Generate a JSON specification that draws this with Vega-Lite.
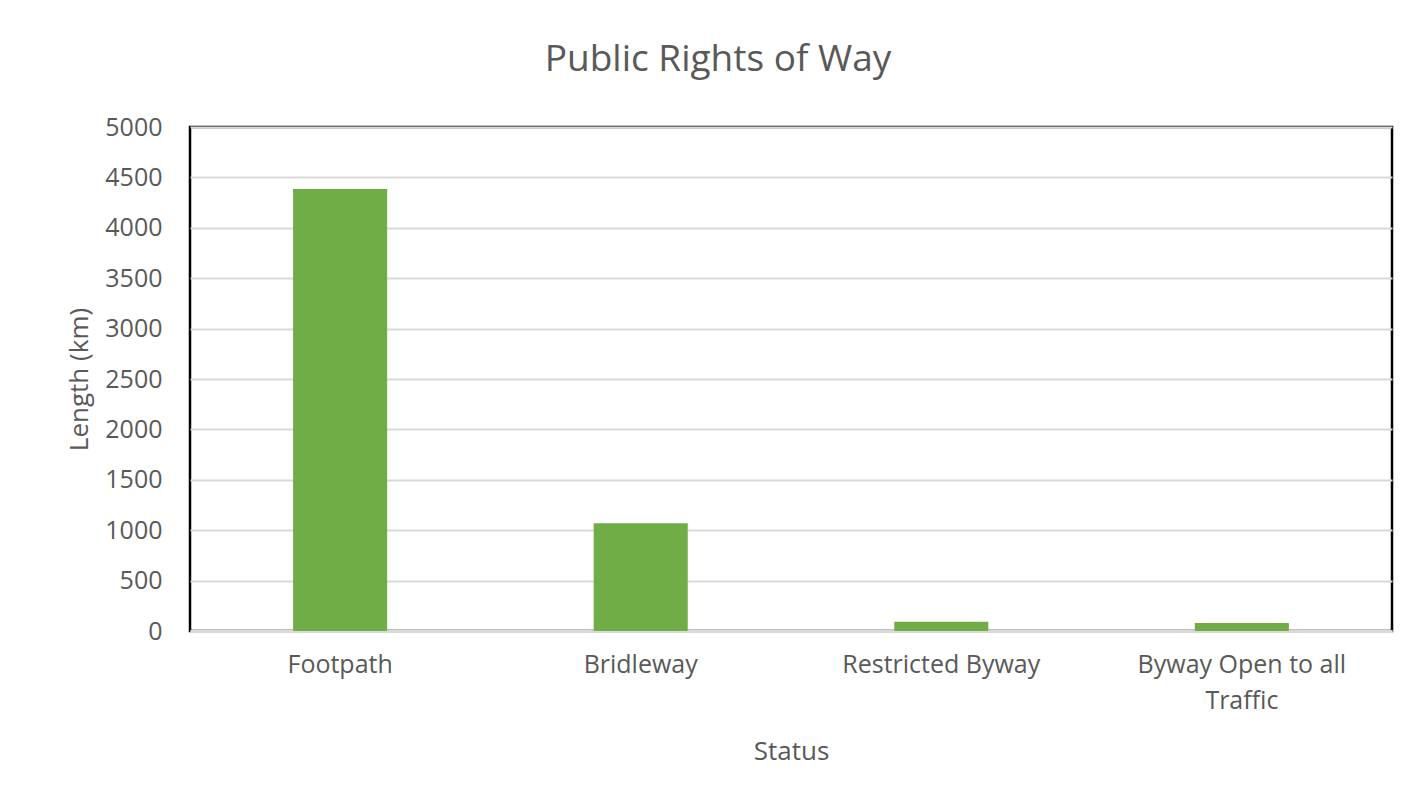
{
  "$schema": "https://vega.github.io/schema/vega-lite/v6.json",
  "autosize": {"type": "none"},
  "width": 1202,
  "height": 504,
  "padding": {"left": 190, "top": 127, "right": 17, "bottom": 173},
  "background": "white",
  "title": {
    "text": "Public Rights of Way",
    "font": "Open Sans",
    "fontSize": 37,
    "fontWeight": "normal",
    "color": "#595959",
    "anchor": "middle",
    "dx": -73,
    "offset": 36
  },
  "config": {
    "view": {"stroke": "black", "strokeWidth": 2.5},
    "axis": {
      "labelFont": "Open Sans",
      "titleFont": "Open Sans",
      "labelColor": "#595959",
      "titleColor": "#595959",
      "labelFontSize": 25,
      "titleFontSize": 26,
      "titleFontWeight": "normal",
      "labelLimit": 500
    }
  },
  "data": {
    "values": [
      {"Status": "Footpath", "Length": 4385},
      {"Status": "Bridleway", "Length": 1070},
      {"Status": "Restricted Byway", "Length": 93},
      {"Status": "Byway Open to all Traffic", "Length": 80}
    ]
  },
  "mark": {"type": "bar", "color": "#70ad47"},
  "encoding": {
    "x": {
      "field": "Status",
      "type": "nominal",
      "sort": null,
      "title": "Status",
      "scale": {"paddingInner": 0.687, "paddingOuter": 0.343},
      "axis": {
        "labelAngle": 0,
        "ticks": false,
        "domainColor": "#d9d9d9",
        "domainWidth": 3,
        "labelPadding": 21,
        "labelLineHeight": 36,
        "labelExpr": "datum.label == 'Byway Open to all Traffic' ? ['Byway Open to all', 'Traffic'] : datum.label",
        "titlePadding": 25
      }
    },
    "y": {
      "field": "Length",
      "type": "quantitative",
      "title": "Length (km)",
      "scale": {"domain": [0, 5000]},
      "axis": {
        "values": [0, 500, 1000, 1500, 2000, 2500, 3000, 3500, 4000, 4500, 5000],
        "format": "d",
        "ticks": false,
        "domain": false,
        "gridColor": "#d9d9d9",
        "gridWidth": 2,
        "labelPadding": 28,
        "titlePadding": 12
      }
    }
  }
}
